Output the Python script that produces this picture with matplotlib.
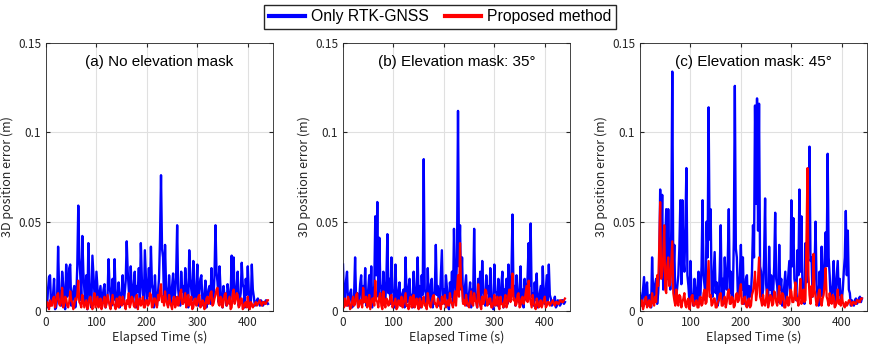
import numpy as np
import matplotlib
matplotlib.use("Agg")
import matplotlib.pyplot as plt

# 3D position error in mm, sampled every ~2 s over 0-440 s
rtk_a = [3, 2, 12, 19, 20, 4, 6, 9, 18, 1, 2, 7, 36, 12, 8, 3, 22, 15, 4, 1,
         26, 8, 10, 24, 26, 3, 5, 11, 14, 2, 8, 25, 59, 30, 20, 6, 42, 22, 12, 4,
         20, 1, 38, 16, 6, 2, 31, 20, 10, 5, 22, 13, 4, 9, 14, 3, 7, 12, 15, 2,
         5, 8, 29, 14, 9, 3, 18, 6, 29, 10, 3, 8, 16, 2, 8, 11, 20, 4, 10, 17,
         39, 22, 12, 3, 25, 9, 6, 15, 22, 2, 14, 11, 24, 5, 38, 18, 10, 4, 34, 20,
         5, 12, 24, 8, 36, 15, 12, 2, 20, 7, 3, 10, 18, 40, 76, 35, 30, 6, 37, 14,
         8, 3, 20, 9, 4, 14, 21, 6, 10, 20, 48, 12, 6, 3, 22, 11, 14, 5, 24, 15,
         9, 2, 34, 18, 12, 6, 28, 10, 4, 13, 26, 3, 11, 18, 20, 6, 3, 9, 17, 2,
         8, 12, 14, 4, 24, 9, 6, 20, 48, 22, 16, 5, 25, 12, 5, 2, 14, 8, 9, 3,
         15, 10, 4, 8, 31, 12, 30, 5, 10, 14, 22, 3, 6, 10, 27, 15, 13, 2, 18, 9,
         25, 11, 5, 3, 26, 12, 8, 3, 4, 6, 7, 5, 3, 6, 5, 3, 4, 5, 6, 5, 4]
prop_a = [2, 5, 4, 1, 6, 3, 3, 7, 8, 2, 5, 9, 10, 4, 3, 6, 13, 2, 4, 8,
          7, 3, 2, 5, 11, 6, 5, 1, 3, 7, 6, 9, 17, 5, 4, 2, 9, 6, 2, 4,
          6, 1, 3, 7, 8, 3, 1, 5, 10, 2, 5, 8, 2, 4, 7, 1, 3, 6, 8, 2,
          4, 9, 6, 3, 1, 5, 9, 4, 3, 1, 7, 5, 2, 8, 5, 3, 8, 6, 3, 1,
          6, 4, 10, 2, 4, 8, 7, 3, 2, 5, 9, 1, 5, 7, 3, 4, 8, 2, 2, 6,
          6, 3, 4, 10, 9, 2, 3, 7, 7, 4, 2, 9, 6, 11, 15, 5, 8, 3, 11, 6,
          4, 2, 9, 5, 3, 1, 6, 8, 2, 4, 8, 3, 5, 10, 12, 4, 4, 7, 10, 2,
          6, 9, 3, 5, 8, 1, 2, 6, 7, 3, 4, 8, 9, 2, 3, 6, 5, 1, 2, 7,
          8, 4, 6, 10, 11, 3, 4, 7, 9, 12, 13, 4, 3, 8, 7, 2, 5, 9, 10, 3,
          4, 6, 8, 1, 2, 9, 12, 4, 6, 10, 9, 2, 3, 7, 7, 1, 2, 4, 5, 2,
          8, 3, 1, 5, 4, 2, 3, 4, 5, 3, 4, 5, 6, 4, 3, 5, 5, 4, 4, 6, 6]

rtk_b = [26, 4, 8, 17, 22, 3, 5, 10, 12, 2, 3, 9, 30, 6, 10, 2, 6, 15, 20, 4,
         14, 7, 24, 3, 4, 12, 20, 5, 25, 2, 8, 14, 53, 20, 61, 8, 41, 15, 12, 3,
         22, 9, 6, 18, 43, 10, 18, 4, 30, 12, 10, 2, 26, 8, 4, 11, 16, 3, 7, 10,
         12, 2, 30, 9, 5, 13, 18, 4, 9, 2, 22, 7, 4, 14, 30, 5, 14, 2, 20, 9,
         85, 12, 10, 3, 24, 6, 5, 15, 18, 2, 8, 11, 37, 9, 14, 3, 6, 20, 34, 7,
         12, 4, 20, 13, 4, 1, 16, 8, 22, 3, 46, 18, 10, 30, 112, 25, 48, 12, 30, 5,
         8, 14, 20, 3, 5, 10, 16, 2, 12, 8, 46, 10, 6, 2, 18, 9, 22, 4, 28, 12,
         9, 3, 20, 10, 14, 4, 24, 8, 4, 1, 26, 11, 10, 3, 18, 7, 6, 15, 22, 2,
         12, 9, 18, 4, 26, 12, 8, 22, 54, 10, 14, 3, 20, 8, 5, 12, 25, 4, 12, 2,
         18, 9, 6, 20, 38, 14, 49, 8, 10, 3, 16, 6, 21, 2, 6, 10, 14, 4, 25, 8,
         4, 12, 20, 5, 26, 9, 7, 3, 4, 5, 8, 2, 3, 6, 5, 3, 4, 6, 6, 4, 5]
prop_b = [5, 2, 7, 3, 3, 8, 6, 1, 2, 5, 8, 3, 4, 9, 10, 2, 3, 6, 6, 2,
          13, 5, 5, 8, 2, 4, 9, 1, 4, 7, 7, 3, 17, 6, 5, 2, 8, 10, 3, 1,
          11, 4, 2, 7, 6, 3, 4, 8, 9, 2, 3, 5, 7, 1, 2, 6, 5, 3, 8, 2,
          4, 7, 10, 3, 3, 1, 6, 8, 2, 4, 9, 2, 5, 7, 3, 1, 7, 4, 2, 6,
          8, 3, 4, 1, 10, 6, 3, 2, 6, 8, 9, 4, 4, 2, 7, 5, 3, 1, 8, 4,
          5, 9, 2, 4, 6, 3, 10, 5, 4, 2, 7, 11, 3, 12, 20, 8, 38, 15, 12, 4,
          6, 3, 9, 5, 3, 2, 7, 11, 4, 3, 10, 6, 5, 2, 15, 7, 3, 1, 8, 4,
          6, 12, 11, 3, 4, 7, 7, 2, 2, 5, 9, 3, 5, 8, 3, 1, 8, 4, 4, 2,
          6, 9, 2, 4, 9, 12, 5, 10, 21, 6, 7, 3, 4, 9, 10, 2, 3, 7, 8, 4,
          6, 10, 14, 5, 17, 8, 5, 2, 9, 4, 3, 1, 7, 5, 2, 3, 6, 2, 4, 6,
          8, 2, 3, 5, 5, 3, 4, 5, 6, 4, 3, 5, 5, 4, 4, 6, 6, 5, 5, 6, 7]

rtk_c = [10, 3, 5, 12, 19, 4, 12, 16, 3, 8, 9, 2, 30, 10, 6, 15, 18, 4, 10, 22,
         68, 30, 65, 12, 20, 40, 57, 18, 57, 25, 12, 45, 134, 20, 37, 6, 8, 14, 20, 35,
         62, 15, 62, 30, 22, 48, 80, 20, 14, 5, 28, 10, 8, 3, 18, 9, 5, 14, 22, 4,
         10, 25, 62, 20, 14, 6, 50, 30, 114, 40, 57, 12, 8, 20, 33, 10, 16, 3, 6, 22,
         48, 8, 18, 4, 30, 15, 12, 28, 57, 10, 22, 5, 8, 40, 126, 35, 30, 8, 10, 20,
         37, 12, 30, 4, 6, 18, 20, 3, 14, 8, 10, 22, 48, 30, 115, 60, 119, 45, 116, 25,
         22, 8, 12, 30, 63, 15, 8, 4, 36, 12, 20, 6, 10, 25, 55, 18, 14, 5, 37, 12,
         18, 3, 6, 14, 22, 5, 12, 20, 28, 8, 62, 25, 52, 18, 14, 6, 34, 20, 68, 22,
         53, 14, 10, 4, 38, 16, 20, 45, 92, 28, 30, 8, 12, 22, 50, 15, 8, 3, 22, 10,
         36, 8, 14, 30, 44, 25, 88, 30, 20, 6, 8, 15, 28, 4, 12, 20, 28, 9, 18, 5,
         6, 12, 22, 30, 56, 20, 45, 12, 10, 3, 6, 4, 3, 6, 7, 4, 5, 7, 8, 5, 7]
prop_c = [2, 4, 6, 1, 3, 7, 8, 2, 4, 6, 2, 3, 10, 5, 3, 8, 5, 20, 14, 35,
          61, 18, 22, 30, 48, 12, 10, 25, 30, 14, 16, 28, 39, 10, 6, 3, 12, 5, 3, 9,
          8, 2, 5, 7, 10, 3, 2, 6, 7, 1, 4, 8, 9, 3, 3, 5, 6, 2, 2, 7,
          8, 3, 4, 10, 12, 4, 5, 16, 28, 8, 9, 3, 4, 7, 7, 2, 2, 5, 6, 9,
          10, 3, 3, 6, 8, 2, 5, 10, 12, 4, 4, 8, 7, 2, 3, 9, 10, 5, 6, 12,
          15, 4, 4, 7, 8, 3, 2, 6, 7, 2, 3, 9, 11, 15, 22, 6, 10, 18, 30, 8,
          6, 3, 9, 4, 3, 7, 12, 2, 5, 9, 8, 3, 4, 11, 10, 5, 3, 8, 14, 4,
          6, 10, 9, 2, 2, 6, 8, 3, 4, 12, 11, 5, 5, 8, 16, 6, 7, 3, 10, 18,
          4, 7, 12, 5, 6, 40, 80, 20, 9, 4, 14, 8, 32, 12, 8, 3, 5, 10, 12, 6,
          3, 7, 9, 15, 24, 8, 6, 3, 10, 5, 4, 9, 8, 2, 3, 6, 12, 4, 6, 3,
          9, 5, 3, 2, 5, 3, 4, 6, 6, 4, 3, 5, 5, 4, 4, 6, 6, 5, 5, 7, 7]

titles = ["(a) No elevation mask", "(b) Elevation mask: 35°", "(c) Elevation mask: 45°"]
series = [(rtk_a, prop_a), (rtk_b, prop_b), (rtk_c, prop_c)]
end_time = 440

plt.rcParams['font.family'] = ['Noto Sans CJK JP', 'DejaVu Sans']

fig = plt.figure(figsize=(8.72, 3.46), dpi=100)
lefts = [46 / 872, 343 / 872, 640 / 872]
lines = []
for k, (rtk, prop) in enumerate(series):
    ax = fig.add_axes([lefts[k], 35 / 346, 227 / 872, 268 / 346])
    t1 = np.linspace(0, end_time, len(rtk))
    t2 = np.linspace(0, end_time, len(prop))
    l1, = ax.plot(t1, np.array(rtk) / 1000, color='#0000ff', lw=1.7)
    l2, = ax.plot(t2, np.array(prop) / 1000, color='#ff0000', lw=1.6)
    lines = [l1, l2]
    ax.set_xlim(0, 450)
    ax.set_ylim(0, 0.15)
    ax.set_xticks([0, 100, 200, 300, 400])
    ax.set_yticks([0, 0.05, 0.1, 0.15])
    ax.set_yticklabels(['0', '0.05', '0.1', '0.15'])
    ax.grid(True, color='#e0e0e0', lw=0.8)
    ax.set_axisbelow(True)
    ax.tick_params(direction='in', top=True, right=True, labelsize=8.5, length=3,
                   colors='#262626')
    for sp in ax.spines.values():
        sp.set_color('#262626')
        sp.set_linewidth(0.6)
    ax.set_xlabel('Elapsed Time (s)', fontsize=9, labelpad=1, color='#262626')
    ax.set_ylabel('3D position error (m)', fontsize=9, labelpad=3, color='#262626')
    ax.text(0.5, 0.93, titles[k], transform=ax.transAxes, ha='center', va='center',
            fontsize=11, family=['Liberation Sans', 'DejaVu Sans'])

leg = fig.legend(lines, ['Only RTK-GNSS', 'Proposed method'], loc='center',
                 bbox_to_anchor=(440 / 872, 1 - 17 / 346), ncol=2, fancybox=False,
                 edgecolor='#262626', framealpha=1, handlelength=2.3,
                 columnspacing=1.0, handletextpad=0.4, borderpad=0.3,
                 prop={'family': ['Liberation Sans', 'DejaVu Sans'], 'size': 11.3})
for h in leg.get_lines():
    h.set_linewidth(3)

fig.savefig('out.png', dpi=100)
